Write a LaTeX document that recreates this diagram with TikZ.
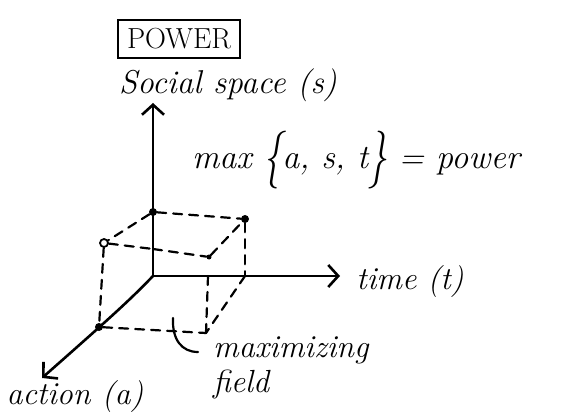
\documentclass[tikz,border=0pt]{standalone}
\usepackage{fontspec}
\usepackage{graphicx}
\usetikzlibrary{arrows.meta}
\begin{document}
\begin{tikzpicture}[x=1pt,y=-1pt,
  axis/.style={line width=2.6pt, -{Straight Barb[length=10pt,width=22pt,line width=2.6pt]}},
  dashln/.style={line width=2.2pt, dash pattern=on 9pt off 7pt, line cap=round},
  dotf/.style={circle, fill, inner sep=0pt, minimum size=8pt},
  doto/.style={circle, draw, line width=1.8pt, inner sep=0pt, minimum size=8pt},
  lbl/.style={font=\fontsize{32}{36}\selectfont\itshape, inner sep=0pt}]
\useasboundingbox (0,0) rectangle (573,414);
% title
\node[draw, line width=2.2pt, minimum width=122pt, minimum height=38pt, inner sep=0pt,
      font=\fontsize{29}{30}\selectfont] (title) at (179,39) {POWER};
% axes
\coordinate (O) at (153,276);
\coordinate (S) at (153,103);
\coordinate (T) at (340,276);
\coordinate (A) at (42,378);
\draw[axis] (O) -- (S);
\draw[axis] (O) -- (T);
\draw[axis] (O) .. controls (130,300) and (110,318) .. (A);
% labels
\node[lbl, font=\fontsize{33}{36}\selectfont\itshape] (slbl) at (228,85) {Social space (s)};
\node[lbl] (tlbl) at (410,282) {time (t)};
\node[lbl] (albl) at (75,397) {action (a)};
\node[lbl, font=\fontsize{34}{38}\selectfont\itshape] (mlbl) at (356,160) {max \raisebox{-0.18em}{\scalebox{1.1}[1.7]{\{}}a, s, t\raisebox{-0.18em}{\scalebox{1.1}[1.7]{\}}} = power};
\node[lbl, anchor=west] (mf1) at (213,350) {maximizing};
\node[lbl, anchor=west] (mf2) at (213,384) {field};
% points
\node[dotf] (ps) at (153,212) {};
\node[dotf] (ptop) at (245,219) {};
\node[doto] (pleft) at (104,243) {};
\node[dotf] (pa) at (99,327) {};
\node[dotf, minimum size=5pt] (pmid) at (209,257) {};
\coordinate (t1) at (208,276);
\coordinate (t2) at (245,276);
\coordinate (pb) at (206,333);
\coordinate (axm) at (153,249);
% dashed cube
\draw[dashln] (ps) -- (pleft);
\draw[dashln] (ps) -- (ptop);
\draw[dashln] (pleft) -- (axm);
\draw[dashln] (axm) -- (pmid);
\draw[dashln] (pmid) -- (ptop);
\draw[dashln] (ptop) -- (t2);
\draw[dashln] (pleft) -- (pa);
\draw[dashln] (pa) -- (pb);
\draw[dashln] (t1) -- (pb);
\draw[dashln] (t2) -- (pb);
% pointer hook
\draw[line width=2.2pt, line cap=round] (173,318) .. controls (172,340) and (182,352) .. (198,352);
\end{tikzpicture}
\end{document}
